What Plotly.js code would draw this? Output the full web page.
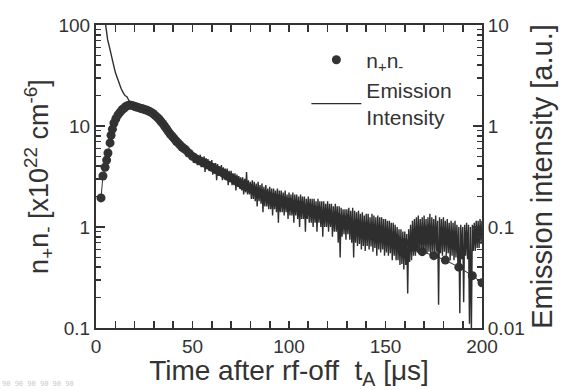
<!DOCTYPE html>
<html>
<head>
<meta charset="utf-8">
<script src="https://cdn.plot.ly/plotly-3.0.1.min.js"></script>
<style>html,body{margin:0;padding:0;background:#fff;}#chart{width:566px;height:390px;}#dbg{position:absolute;left:2px;top:380px;font:7px monospace;color:#ccc;}</style>
</head>
<body>
<div id="chart"></div>
<div id="dbg"></div>
<script>
// n+n- product [x10^22 cm^-6]
const npnT = [2.6,3.6,4.7,5.5,6.2,7.3,7.8,8.5,9.3,10.3,11.4,12.5,13.5,14.5,15.5,16.5,17.5,18.5,19.5,20.5,21.5,22.5,23.5,24.5,25.5,26.5,27.5,28.5,29.5,30.5,31.5,32.5,33.5,34.5,35.5,36.5,37.5,38.5,39.5,40.5,41.5,42.5,43.5,44.5,45.5,46.5,48,50,52,54,56,58,60,62,64,66,68,70,72,74,76,78,80,82,84,86,88,90,92,94,96,98,100,105,110,115,120,125,130,135,140,145,150,155,160,165,169,175,181,188,195,200];
const npnV = [1.94,3.2,3.9,4.6,5.4,6.8,8.1,9.3,10.7,11.8,12.9,13.7,14.5,15.0,15.6,16.0,16.1,16.0,15.8,15.5,15.3,15.1,14.9,14.7,14.5,14.3,14.0,13.7,13.3,12.8,12.3,11.8,11.2,10.6,10.0,9.4,8.8,8.3,7.9,7.5,7.1,6.8,6.5,6.2,6.0,5.8,5.4,5.0,4.7,4.5,4.3,4.1,3.9,3.7,3.55,3.4,3.2,3.05,2.9,2.75,2.6,2.5,2.4,2.3,2.2,2.15,2.08,2.0,1.95,1.9,1.85,1.8,1.75,1.65,1.55,1.45,1.35,1.25,1.15,1.07,1.0,0.92,0.85,0.78,0.7,0.63,0.57,0.52,0.47,0.40,0.33,0.28];

// Emission intensity [a.u.]: early part, then 1 us samples to 50 us
const emT1 = [4,4.5,5,6,7,8,9,10,11,12,13,14,15,16,17,
18,19,20,21,22,23,24,25,26,27,28,29,30,31,32,33,34,35,36,37,38,39,40,41,42,43,44,45,46,47,48,49];
const emV1 = [14,12,9.3,7.2,6.0,4.8,4.1,3.4,3.0,2.6,2.35,2.15,2.0,1.95,1.8,
1.66,1.62,1.57,1.55,1.53,1.5,1.49,1.46,1.45,1.42,1.4,1.35,1.31,1.26,1.2,1.15,1.09,1.03,0.98,0.92,0.87,0.83,0.78,0.74,0.71,0.66,0.65,0.6,0.61,0.54,0.56,0.5];
// Emission, 0.5 us samples from 50 to 200 us (pairs: t, t+0.5)
const emV2 = [
0.57,0.43, 0.54,0.44, 0.53,0.41, 0.51,0.42, 0.52,0.39, 0.49,0.40, 0.50,0.35, 0.48,0.38, 0.47,0.36, 0.45,0.36,
0.46,0.33, 0.43,0.34, 0.43,0.29, 0.42,0.32, 0.40,0.32, 0.41,0.29, 0.39,0.30, 0.38,0.29, 0.38,0.26, 0.36,0.28,
0.36,0.26, 0.34,0.26, 0.34,0.23, 0.33,0.25, 0.32,0.24, 0.31,0.23, 0.31,0.21, 0.30,0.22, 0.35,0.21, 0.29,0.21,
0.28,0.19, 0.29,0.19, 0.28,0.18, 0.27,0.16, 0.28,0.18, 0.26,0.17, 0.27,0.14, 0.25,0.16, 0.26,0.16, 0.24,0.15,
0.25,0.15, 0.24,0.13, 0.24,0.15, 0.23,0.14, 0.24,0.11, 0.23,0.14, 0.23,0.14, 0.22,0.13, 0.23,0.14, 0.21,0.12,
0.22,0.13, 0.21,0.13, 0.22,0.11, 0.21,0.13, 0.21,0.12, 0.20,0.10, 0.21,0.12, 0.20,0.12, 0.20,0.09, 0.19,0.12,
0.20,0.11, 0.19,0.11, 0.19,0.10, 0.19,0.11, 0.18,0.09, 0.19,0.11, 0.18,0.10, 0.18,0.08, 0.18,0.10, 0.17,0.10,
0.18,0.09, 0.17,0.10, 0.17,0.08, 0.16,0.09, 0.17,0.09, 0.16,0.07, 0.16,0.05, 0.155,0.08, 0.15,0.085, 0.15,0.075,
0.15,0.085, 0.155,0.075, 0.145,0.07, 0.155,0.05, 0.145,0.07, 0.14,0.065, 0.145,0.068, 0.135,0.06, 0.14,0.065, 0.13,0.058,
0.135,0.065, 0.135,0.06, 0.125,0.064, 0.135,0.057, 0.13,0.062, 0.125,0.052, 0.13,0.06, 0.125,0.056, 0.125,0.06, 0.12,0.052,
0.12,0.056, 0.115,0.052, 0.115,0.055, 0.11,0.047, 0.11,0.052, 0.105,0.047, 0.1,0.047, 0.095,0.042, 0.095,0.043, 0.09,0.038,
0.09,0.042, 0.085,0.022, 0.095,0.045, 0.105,0.047, 0.115,0.052, 0.12,0.052, 0.125,0.056, 0.13,0.055, 0.12,0.057, 0.125,0.052,
0.13,0.057, 0.12,0.055, 0.125,0.057, 0.135,0.052, 0.125,0.057, 0.12,0.055, 0.13,0.057, 0.115,0.017, 0.125,0.055, 0.12,0.052,
0.125,0.057, 0.115,0.052, 0.12,0.055, 0.11,0.047, 0.115,0.052, 0.11,0.047, 0.115,0.05, 0.105,0.043, 0.1,0.014, 0.105,0.048,
0.1,0.018, 0.105,0.052, 0.11,0.048, 0.105,0.011, 0.1,0.009, 0.105,0.058, 0.11,0.058, 0.115,0.062, 0.115,0.062, 0.12,0.068,
0.115];
const emT2 = emV2.map((_, i) => 50 + 0.5 * i);
const emT = emT1.concat(emT2);
const emV = emV1.concat(emV2);

const xTicks = [0,50,100,150,200];
const xMinor = [10,20,30,40,60,70,80,90,110,120,130,140,160,170,180,190];
const yLeftTicks = [0.1,1,10,100];
const yLeftMinor = [0.2,0.3,0.4,0.5,0.6,0.7,0.8,0.9,2,3,4,5,6,7,8,9,20,30,40,50,60,70,80,90];
const yRightTicks = [0.01,0.1,1,10];
const yRightMinor = [0.02,0.03,0.04,0.05,0.06,0.07,0.08,0.09,0.2,0.3,0.4,0.5,0.6,0.7,0.8,0.9,2,3,4,5,6,7,8,9];

const ink = '#333333';
const fontFam = 'Liberation Sans, Arial, sans-serif';

const traces = [
  {x: npnT, y: npnV, type: 'scatter', mode: 'markers',
   name: 'n<sub>+</sub>n<sub>-</sub>', marker: {color: ink, size: 9}},
  {x: emT, y: emV, yaxis: 'y2', type: 'scatter', mode: 'lines',
   name: 'Emission<br>Intensity', line: {color: '#2e2e2e', width: 1.4}},
  {x: npnT, y: npnV, type: 'scatter', mode: 'lines', showlegend: false,
   line: {color: ink, width: 1}}
];

function minorOpts(vals) {
  return {tickmode: 'array', tickvals: vals, ticks: 'inside', ticklen: 5, tickwidth: 1.6, tickcolor: ink, showgrid: false};
}

// base layout: same axis/tick setup as a configuration known to draw ticks
const layout = {
  width: 566, height: 390,
  margin: {l: 96, r: 84, t: 25, b: 62},
  font: {family: fontFam},
  showlegend: false,
  xaxis: {range: [0, 200], tickmode: 'array', tickvals: xTicks,
          ticks: 'inside', ticklen: 7, tickwidth: 1.8, tickcolor: ink,
          showline: true, linecolor: ink, linewidth: 2, mirror: 'allticks',
          showgrid: false, zeroline: false, minor: minorOpts(xMinor)},
  yaxis: {type: 'log', range: [-1, 2], tickmode: 'array', tickvals: yLeftTicks,
          ticks: 'inside', ticklen: 9, tickwidth: 1.8, tickcolor: ink,
          showline: true, linecolor: ink, linewidth: 2,
          showgrid: false, zeroline: false, minor: minorOpts(yLeftMinor)},
  yaxis2: {type: 'log', range: [-2, 1], overlaying: 'y', side: 'right',
           tickmode: 'array', tickvals: yRightTicks,
           ticks: 'inside', ticklen: 9, tickwidth: 1.8, tickcolor: ink,
           showline: true, linecolor: ink, linewidth: 2,
           showgrid: false, zeroline: false, minor: minorOpts(yRightMinor)}
};

// styling applied step by step; a step that removes the ticks is undone
const steps = [
  [{'font.size': 19, 'font.color': ink}, {'font.size': null, 'font.color': null}],
  [{'xaxis.tickfont.size': 19, 'yaxis.tickfont.size': 19, 'yaxis2.tickfont.size': 19},
   {'xaxis.tickfont.size': null, 'yaxis.tickfont.size': null, 'yaxis2.tickfont.size': null}],
  [{'xaxis.title.text': 'Time after rf-off  t<sub>A</sub> [μs]', 'xaxis.title.font.size': 28,
    'yaxis.title.text': 'n<sub>+</sub>n<sub>-</sub> [x10<sup>22</sup> cm<sup>-6</sup>]', 'yaxis.title.font.size': 27,
    'yaxis2.title.text': 'Emission intensity [a.u.]', 'yaxis2.title.font.size': 29},
   {'xaxis.title.text': '', 'yaxis.title.text': '', 'yaxis2.title.text': ''}],
  [{'xaxis.title.standoff': 0, 'yaxis.title.standoff': 2, 'yaxis2.title.standoff': 8},
   {'xaxis.title.standoff': null, 'yaxis.title.standoff': null, 'yaxis2.title.standoff': null}],
  [{'showlegend': true, 'legend.x': 0.545, 'legend.y': 0.952, 'legend.xanchor': 'left', 'legend.yanchor': 'top',
    'legend.bgcolor': 'rgba(0,0,0,0)', 'legend.font.size': 21, 'legend.font.color': ink, 'legend.itemwidth': 50},
   {'showlegend': false}]
];

function visibleTicks(gd) {
  let n = 0;
  gd.querySelectorAll('path.ticks').forEach(p => {
    const d = p.getAttribute('d');
    if (d && d.length > 2 && getComputedStyle(p).display !== 'none') n++;
  });
  return n;
}

Plotly.newPlot('chart', traces, layout, {staticPlot: true, displayModeBar: false}).then(async gd => {
  const log = [visibleTicks(gd)];
  for (const [apply, undo] of steps) {
    const before = visibleTicks(gd);
    await Plotly.relayout(gd, apply);
    const after = visibleTicks(gd);
    if (after < before - 3) { await Plotly.relayout(gd, undo); log.push('x' + after); }
    else log.push(after);
  }
  document.getElementById('dbg').textContent = log.join(' ');
});
</script>
</body>
</html>
